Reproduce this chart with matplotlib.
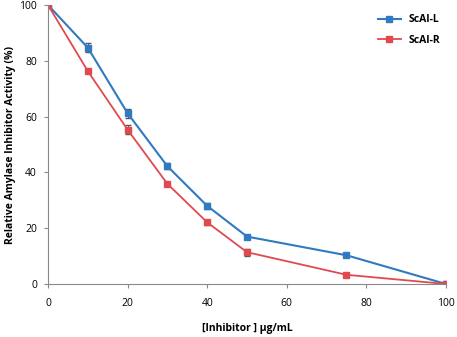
import numpy as np
import matplotlib.pyplot as plt

plt.rcParams['font.family'] = ['Open Sans', 'DejaVu Sans']

# data
conc = [0, 10, 20, 30, 40, 50, 75, 100]
scai_l = [100, 84.7, 61.2, 42.2, 28.0, 17.0, 10.3, 0.0]
scai_r = [100, 76.3, 55.3, 35.9, 22.1, 11.4, 3.3, 0.0]
err_l = [0, 1.6, 1.6, 1.0, 1.0, 0.5, 0.6, 0]
err_r = [0, 0.8, 1.6, 0.8, 1.0, 1.2, 0.5, 0]

blue = '#2f7ac0'
red = '#e04a4f'

fig = plt.figure(figsize=(4.57, 3.37), dpi=100)
ax = fig.add_axes([48/457, 53/337, 398/457, 279/337])

ax.errorbar(conc, scai_l, yerr=err_l, fmt='none', ecolor='#555555', elinewidth=0.7, capsize=2)
ax.errorbar(conc, scai_r, yerr=err_r, fmt='none', ecolor='#555555', elinewidth=0.7, capsize=2)
ax.plot(conc, scai_l, color=blue, marker='s', ms=4.5, lw=1.5, label='ScAI-L')
ax.plot(conc, scai_r, color=red, marker='s', ms=4.5, lw=1.3, label='ScAI-R')

ax.set_xlim(0, 100)
ax.set_ylim(0, 100)
ax.set_xticks(np.arange(0, 101, 20))
ax.set_yticks(np.arange(0, 101, 20))
for s in ['top', 'right']:
    ax.spines[s].set_visible(False)
for s in ['left', 'bottom']:
    ax.spines[s].set_color('#888888')
    ax.spines[s].set_linewidth(0.8)
ax.tick_params(labelsize=7.5, length=3, color='#888888', direction='out')
ax.tick_params(axis='x', pad=7)
ax.tick_params(axis='y', pad=5)

ax.set_xlabel('[Inhibitor ] µg/mL', fontsize=7.5, fontweight='bold', labelpad=10)
ax.set_ylabel('Relative Amylase Inhibitor Activity (%)', fontsize=7.5, fontweight='bold', labelpad=2)

ax.legend(loc='upper right', bbox_to_anchor=(1.01, 1.0), frameon=False,
          prop={'weight': 'bold', 'size': 7.5}, handlelength=2.2, labelspacing=0.9)

fig.savefig('out.png', dpi=100)
